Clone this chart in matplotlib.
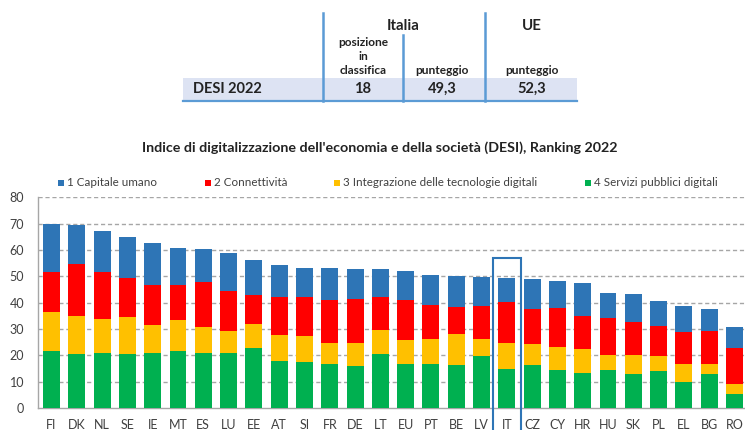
import matplotlib
matplotlib.use("Agg")
import matplotlib.pyplot as plt
from matplotlib.patches import Rectangle
from matplotlib.lines import Line2D

plt.rcParams['font.family'] = ['Lato', 'DejaVu Sans']

countries = ["FI", "DK", "NL", "SE", "IE", "MT", "ES", "LU", "EE", "AT", "SI", "FR", "DE", "LT",
             "EU", "PT", "BE", "LV", "IT", "CZ", "CY", "HR", "HU", "SK", "PL", "EL", "BG", "RO"]
servizi = [21.7, 20.7, 21.0, 20.7, 21.0, 21.5, 21.0, 21.0, 22.9, 17.9, 17.4, 16.9, 15.8, 20.5,
           16.9, 16.9, 16.3, 19.7, 14.7, 16.2, 14.4, 13.4, 14.4, 13.1, 13.9, 9.9, 13.1, 5.3]
integrazione = [14.8, 14.4, 13.0, 13.8, 10.6, 12.0, 9.6, 8.4, 8.9, 9.9, 9.9, 7.7, 9.0, 9.3,
                8.9, 9.5, 11.8, 6.5, 10.1, 8.3, 8.7, 9.2, 5.6, 6.9, 5.8, 6.8, 3.8, 3.8]
connettivita = [15.1, 19.5, 17.6, 15.0, 15.3, 13.1, 17.2, 15.1, 11.3, 14.3, 14.9, 16.3, 16.8, 12.3,
                15.1, 12.8, 10.2, 12.6, 15.3, 13.2, 14.9, 12.2, 14.1, 12.5, 11.6, 12.2, 12.5, 13.8]
capitale = [18.2, 14.8, 15.5, 15.6, 15.9, 14.3, 12.7, 14.3, 13.3, 12.4, 11.0, 12.3, 11.4, 10.6,
            11.3, 11.5, 11.7, 10.9, 9.2, 11.5, 10.4, 12.6, 9.5, 10.7, 9.3, 10.0, 8.3, 7.7]

series_names = ["1 Capitale umano", "2 Connettività",
                "3 Integrazione delle tecnologie digitali", "4 Servizi pubblici digitali"]
series_colors = ["#2e75b6", "#ff0000", "#ffc000", "#00b050"]

highlight = "IT"
title = "Indice di digitalizzazione dell'economia e della società (DESI), Ranking 2022"

# summary table
table_row_label = "DESI 2022"
table_groups = ["Italia", "UE"]
table_rank_header = ["posizione", "in", "classifica"]
table_score_header = "punteggio"
table_values = ["18", "49,3", "52,3"]

W, H = 745, 430
fig = plt.figure(figsize=(W / 100, H / 100), dpi=100)


def fx(px):
    return px / W


def fy(py):
    return 1 - py / H


# ---- table ----
tcol = "#5b9bd5"
fig.patches.append(Rectangle((fx(183), fy(100)), fx(577) - fx(183), fy(78) - fy(100),
                             transform=fig.transFigure, facecolor="#dde3f3", edgecolor="none"))
fig.lines.append(Line2D([fx(183), fx(577)], [fy(100.5), fy(100.5)], transform=fig.transFigure,
                        color=tcol, lw=1.6))
for x0, y0 in [(323, 13), (403, 35), (485, 13)]:
    fig.lines.append(Line2D([fx(x0), fx(x0)], [fy(y0), fy(100.5)], transform=fig.transFigure,
                            color=tcol, lw=1.8))
tk = dict(color="#222222", fontweight="bold", ha="center", va="center")
fig.text(fx(403), fy(26), table_groups[0], fontsize=10.8, **tk)
fig.text(fx(532), fy(26), table_groups[1], fontsize=10.8, **tk)
for yy, line in zip([43, 57, 71], table_rank_header):
    fig.text(fx(363), fy(yy), line, fontsize=8.6, **tk)
fig.text(fx(442), fy(71), table_score_header, fontsize=8.6, **tk)
fig.text(fx(532), fy(71), table_score_header, fontsize=8.6, **tk)
fig.text(fx(193), fy(89), table_row_label, fontsize=10.5, color="#222222", fontweight="bold",
         ha="left", va="center")
for xv, v in zip([363, 442, 532], table_values):
    fig.text(fx(xv), fy(89), v, fontsize=10.5, **tk)

# ---- title ----
fig.text(fx(380), fy(148), title, fontsize=10.3, fontweight="bold", color="#222222",
         ha="center", va="center")

# ---- legend ----
leg_sq = [61, 208, 337, 588]
for xs, name, col in zip(leg_sq, series_names, series_colors):
    fig.patches.append(Rectangle((fx(xs - 3), fy(186)), fx(6), fx(6) * W / H,
                                 transform=fig.transFigure, facecolor=col, edgecolor="none"))
    fig.text(fx(xs + 6), fy(183), name, fontsize=8.35, color="#404040", ha="left", va="center")

# ---- chart ----
ax = fig.add_axes([fx(38), fy(408), 1 - fx(38), fy(197.5) - fy(408)])
x = list(range(len(countries)))
stack = [servizi, integrazione, connettivita, capitale]
stack_colors = [series_colors[3], series_colors[2], series_colors[1], series_colors[0]]
bottom = [0.0] * len(countries)
for vals, col in zip(stack, stack_colors):
    ax.bar(x, vals, bottom=bottom, width=0.67, color=col, edgecolor="none", zorder=3)
    bottom = [b + v for b, v in zip(bottom, vals)]

ax.set_xlim(-0.534, 27.415)
ax.set_ylim(0, 80)
ax.set_yticks(range(0, 81, 10))
ax.set_xticks(x)
ax.set_xticklabels(countries)
ax.tick_params(axis="both", length=0, labelsize=9, colors="#404040")
ax.tick_params(axis="y", pad=10)
ax.tick_params(axis="x", pad=8)
for yv in range(10, 81, 10):
    ax.axhline(yv, color="#a6a6a6", lw=1.0, ls=(0, (3, 2)), zorder=1)
for s in ["top", "right"]:
    ax.spines[s].set_visible(False)
for s in ["left", "bottom"]:
    ax.spines[s].set_color("#a6a6a6")
    ax.spines[s].set_linewidth(1.0)

i = countries.index(highlight)
ax.add_patch(Rectangle((i - 0.55, -9), 1.1, 66, facecolor="none", edgecolor="#2e75b6",
                       lw=1.5, clip_on=False, zorder=4))

fig.savefig("out.png", dpi=100)
